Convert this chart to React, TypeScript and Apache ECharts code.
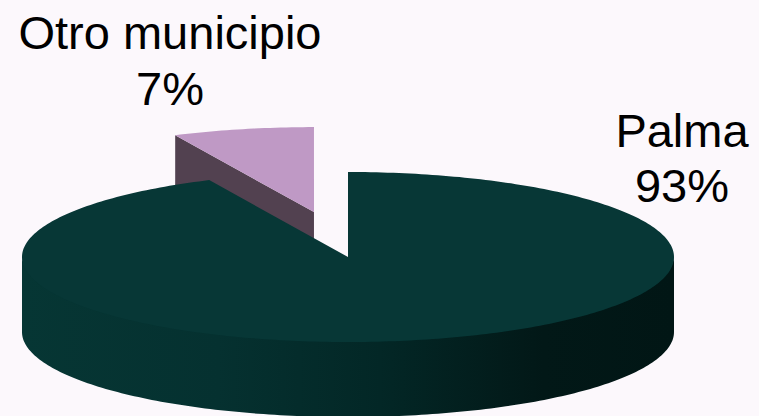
import React, { useEffect, useRef } from "react";
import * as echarts from "echarts";

// ---- data ----
const categories = ["Palma", "Otro municipio"];
const values = [93, 7];

// ---- layout / style (not data) ----
const W = 759;
const H = 416;
const CX = 348;
const CY = 257;
const RX = 326;
const RY = 85;
const DEPTH = 75;
const EXPLODE = [0, 1];
const EXPLODE_X = 156;
const EXPLODE_Y = 46;
const LABEL_POS = [
  [682, 103],
  [170, 4],
];
const LABEL_LH = [55, 56];
const FONT = '47px "Liberation Sans", Arial, Helvetica, sans-serif';
const STYLES = [
  {
    top: "#073736",
    side: "#052e2d",
    wall: [
      { offset: 0, color: "#063634" },
      { offset: 0.3, color: "#053130" },
      { offset: 0.55, color: "#032726" },
      { offset: 0.8, color: "#021817" },
      { offset: 1, color: "#011615" },
    ],
  },
  {
    top: "#BF99C5",
    side: "#524150",
    wall: [
      { offset: 0, color: "#6a5468" },
      { offset: 1, color: "#3f3240" },
    ],
  },
];

const rad = (d: number) => (d * Math.PI) / 180;

function renderItem(params: any, api: any) {
  const i = params.dataIndex;
  const v = api.value(0);
  const total = values.reduce((a, b) => a + b, 0);
  let start = 0;
  for (let k = 0; k < i; k++) start += values[k];
  const a0 = (start / total) * 360;
  const a1 = ((start + v) / total) * 360;
  const mid = (a0 + a1) / 2;
  const ox = EXPLODE[i] ? EXPLODE_X * Math.sin(rad(mid)) : 0;
  const oy = EXPLODE[i] ? -EXPLODE_Y * Math.cos(rad(mid)) : 0;

  const p = (deg: number, r: number, dz: number) => [
    ox + CX + RX * r * Math.sin(rad(deg)),
    oy + CY - RY * r * Math.cos(rad(deg)) + dz,
  ];
  const arc = (from: number, to: number, dz: number) => {
    const n = Math.max(2, Math.ceil(Math.abs(to - from)));
    const pts: number[][] = [];
    for (let k = 0; k <= n; k++) pts.push(p(from + ((to - from) * k) / n, 1, dz));
    return pts;
  };

  const depth = -Math.cos(rad(mid));
  const base = Math.round((depth + 1) * 10);
  const st = STYLES[i];
  const children: any[] = [];

  // radial side faces
  if (Math.sin(rad(a0)) < -1e-6) {
    children.push({
      type: "polygon",
      z2: base + 1,
      shape: { points: [p(a0, 1, 0), p(a0, 0, 0), p(a0, 0, DEPTH), p(a0, 1, DEPTH)] },
      style: { fill: st.side },
    });
  }
  if (Math.sin(rad(a1)) > 1e-6) {
    children.push({
      type: "polygon",
      z2: base + 1,
      shape: { points: [p(a1, 1, 0), p(a1, 0, 0), p(a1, 0, DEPTH), p(a1, 1, DEPTH)] },
      style: { fill: st.side },
    });
  }

  // outer front wall (top edge tucked under the top face to avoid a seam)
  const lo = Math.max(a0, 90);
  const hi = Math.min(a1, 270);
  if (hi > lo) {
    const pts = arc(lo, hi, -2).concat(arc(hi, lo, DEPTH));
    children.push({
      type: "polygon",
      z2: base + 2,
      shape: { points: pts },
      style: { fill: new echarts.graphic.LinearGradient(0, 0, 1, 0, st.wall) },
    });
  }

  // top face
  children.push({
    type: "polygon",
    z2: base + 3,
    shape: { points: [p(0, 0, 0)].concat(arc(a0, a1, 0)) },
    style: { fill: st.top },
  });

  // label
  const pct = Math.round((v / total) * 100);
  children.push({
    type: "text",
    z2: 100,
    style: {
      x: LABEL_POS[i][0],
      y: LABEL_POS[i][1],
      text: `${categories[i]}\n${pct}%`,
      fill: "#000000",
      font: FONT,
      align: "center",
      verticalAlign: "top",
      lineHeight: LABEL_LH[i],
    },
  });

  return { type: "group", children };
}

export default function App() {
  const ref = useRef<HTMLDivElement>(null);
  useEffect(() => {
    if (!ref.current) return;
    const chart = echarts.init(ref.current, undefined, { renderer: "svg" });
    chart.setOption({
      animation: false,
      backgroundColor: "#FCF8FC",
      series: [
        {
          type: "custom",
          coordinateSystem: "none",
          silent: true,
          renderItem,
          data: values.map((val, idx) => ({ value: val, name: categories[idx] })),
        },
      ],
    });
    return () => chart.dispose();
  }, []);
  return (
    <div
      ref={ref}
      style={{ position: "fixed", left: 0, top: 0, width: W, height: H, background: "#FCF8FC" }}
    />
  );
}
